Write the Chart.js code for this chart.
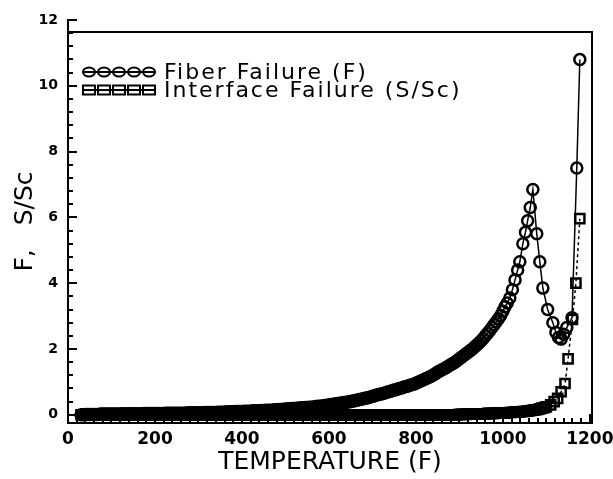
<!DOCTYPE html>
<html>
<head>
<meta charset="utf-8">
<script src="https://cdn.jsdelivr.net/npm/chart.js@4.4.1/dist/chart.umd.min.js"></script>
<style>
  html, body { margin: 0; padding: 0; background: #fff; }
  #wrap { width: 613px; height: 479px; position: relative; }
</style>
</head>
<body>
<div id="wrap"><canvas id="failureChart"></canvas></div>
<script>
// shared temperature grid for the densely sampled part of both curves
const tempLow = [
    30, 35, 40, 45, 50, 55, 60, 65, 70, 75,
    80, 85, 90, 95, 100, 105, 110, 115, 120, 125,
    130, 135, 140, 145, 150, 155, 160, 165, 170, 175,
    180, 185, 190, 195, 200, 205, 210, 215, 220, 225,
    230, 235, 240, 245, 250, 255, 260, 265, 270, 275,
    280, 285, 290, 295, 300, 305, 310, 315, 320, 325,
    330, 335, 340, 345, 350, 355, 360, 365, 370, 375,
    380, 385, 390, 395, 400, 405, 410, 415, 420, 425,
    430, 435, 440, 445, 450, 455, 460, 465, 470, 475,
    480, 485, 490, 495, 500, 505, 510, 515, 520, 525,
    530, 535, 540, 545, 550, 555, 560, 565, 570, 575,
    580, 585, 590, 595, 600, 605, 610, 615, 620, 625,
    630, 635, 640, 645, 650, 655, 660, 665, 670, 675,
    680, 685, 690, 695, 700, 705, 710, 715, 720, 725,
    730, 735, 740, 745, 750, 755, 760, 765, 770, 775,
    780, 785, 790, 795, 800, 805, 810, 815, 820, 825,
    830, 835, 840, 845, 850, 855, 860, 865, 870, 875,
    880, 885, 890, 895, 900, 905, 910, 915, 920, 925,
    930, 935, 940, 945, 950, 955, 960, 965, 970, 975,
    980, 985, 990, 995, 1000
];

// Fiber failure index F
const fiberLow = [
    0.00, 0.00, 0.01, 0.01, 0.01, 0.01, 0.01, 0.01, 0.01, 0.02,
    0.02, 0.02, 0.02, 0.02, 0.02, 0.02, 0.02, 0.02, 0.02, 0.03,
    0.03, 0.03, 0.03, 0.03, 0.03, 0.03, 0.03, 0.03, 0.03, 0.04,
    0.04, 0.04, 0.04, 0.04, 0.04, 0.04, 0.04, 0.04, 0.04, 0.05,
    0.05, 0.05, 0.05, 0.05, 0.05, 0.05, 0.05, 0.05, 0.05, 0.06,
    0.06, 0.06, 0.06, 0.06, 0.06, 0.06, 0.06, 0.07, 0.07, 0.07,
    0.07, 0.07, 0.07, 0.08, 0.08, 0.08, 0.08, 0.09, 0.09, 0.09,
    0.09, 0.10, 0.10, 0.10, 0.10, 0.11, 0.11, 0.11, 0.11, 0.12,
    0.12, 0.12, 0.12, 0.13, 0.13, 0.14, 0.14, 0.14, 0.14, 0.15,
    0.15, 0.16, 0.16, 0.17, 0.17, 0.18, 0.18, 0.19, 0.19, 0.20,
    0.20, 0.21, 0.21, 0.22, 0.22, 0.23, 0.23, 0.24, 0.25, 0.26,
    0.26, 0.27, 0.28, 0.29, 0.30, 0.31, 0.32, 0.33, 0.34, 0.35,
    0.36, 0.37, 0.38, 0.39, 0.40, 0.42, 0.43, 0.45, 0.46, 0.48,
    0.49, 0.51, 0.52, 0.54, 0.56, 0.58, 0.60, 0.62, 0.63, 0.65,
    0.67, 0.69, 0.71, 0.73, 0.75, 0.77, 0.79, 0.81, 0.83, 0.85,
    0.87, 0.89, 0.91, 0.93, 0.96, 0.99, 1.02, 1.05, 1.08, 1.11,
    1.14, 1.17, 1.21, 1.25, 1.30, 1.33, 1.37, 1.40, 1.44, 1.48,
    1.52, 1.56, 1.60, 1.65, 1.70, 1.75, 1.80, 1.85, 1.90, 1.95,
    2.00, 2.06, 2.12, 2.18, 2.25, 2.32, 2.40, 2.48, 2.56, 2.65,
    2.74, 2.83, 2.92, 3.02, 3.15
];
const tempF = tempLow.concat([
    1005, 1010, 1016, 1022, 1028, 1034, 1039, 1046, 1052, 1057,
    1063, 1069, 1078, 1085, 1092, 1103, 1115, 1122, 1128, 1134,
    1140, 1147, 1159, 1170, 1177
]);
const fiberF = fiberLow.concat([
    3.28, 3.40, 3.55, 3.80, 4.10, 4.40, 4.65, 5.20, 5.55, 5.90,
    6.30, 6.85, 5.50, 4.65, 3.85, 3.20, 2.80, 2.50, 2.35, 2.30,
    2.45, 2.65, 2.95, 7.50, 10.80
]);

// Interface failure ratio S/Sc
const interfaceLow = [
    0, 0, 0, 0, 0, 0, 0, 0, 0, 0,
    0, 0, 0, 0, 0, 0, 0, 0, 0, 0,
    0, 0, 0, 0, 0, 0, 0, 0, 0, 0,
    0, 0, 0, 0, 0, 0, 0, 0, 0, 0,
    0, 0, 0, 0, 0, 0, 0, 0, 0, 0,
    0, 0, 0, 0, 0, 0, 0, 0, 0, 0,
    0, 0, 0, 0, 0, 0, 0, 0, 0, 0,
    0, 0, 0, 0, 0, 0, 0, 0, 0, 0,
    0, 0, 0, 0, 0, 0, 0, 0, 0, 0,
    0, 0, 0, 0, 0, 0, 0, 0, 0, 0,
    0, 0, 0, 0, 0, 0, 0, 0, 0, 0,
    0, 0, 0, 0, 0, 0, 0, 0, 0, 0,
    0, 0, 0, 0, 0, 0, 0, 0, 0, 0,
    0, 0, 0, 0, 0, 0, 0, 0, 0, 0,
    0, 0, 0, 0, 0, 0, 0, 0, 0, 0,
    0, 0, 0, 0, 0, 0, 0, 0, 0, 0,
    0, 0, 0, 0, 0, 0, 0, 0, 0, 0,
    0, 0, 0, 0, 0.01, 0.01, 0.01, 0.01, 0.02, 0.02,
    0.02, 0.02, 0.02, 0.03, 0.03, 0.03, 0.03, 0.04, 0.04, 0.04,
    0.04, 0.05, 0.05, 0.05, 0.05
];
const tempS = tempLow.concat([
    1005, 1010, 1015, 1020, 1025, 1030, 1035, 1040, 1045, 1050,
    1055, 1060, 1065, 1070, 1075, 1080, 1085, 1090, 1095, 1100,
    1110, 1118, 1126, 1134, 1143, 1150, 1160, 1168, 1177
]);
const interfaceS = interfaceLow.concat([
    0.06, 0.06, 0.07, 0.07, 0.08, 0.08, 0.09, 0.09, 0.10, 0.10,
    0.11, 0.12, 0.13, 0.14, 0.15, 0.16, 0.18, 0.20, 0.22, 0.24,
    0.30, 0.40, 0.50, 0.70, 0.95, 1.70, 2.90, 4.00, 5.96
]);

const xTicks = [0, 200, 400, 600, 800, 1000, 1200];
const yTicks = [0, 2, 4, 6, 8, 10, 12];
const seriesNames = ["Fiber Failure (F)", "Interface Failure (S/Sc)"];
const xTitle = "TEMPERATURE (F)";
const yTitle = "F,   S/Sc";

const fontFamily = "'DejaVu Sans', sans-serif";
Chart.defaults.font.family = fontFamily;
Chart.defaults.color = "#000";

function toPoints(xs, ys) {
    return xs.map((x, i) => ({ x: x, y: ys[i] }));
}

// tick marks pointing into the plot, plus the top/right frame
const innerTicks = {
    id: "innerTicks",
    afterDatasetsDraw(chart) {
        const { ctx, chartArea } = chart;
        const xs = chart.scales.x;
        const ys = chart.scales.y;
        ctx.save();
        ctx.strokeStyle = "#000";
        ctx.lineWidth = 2;
        ctx.beginPath();
        for (let i = 0; i <= 30; i++) {
            const py = Math.round(ys.getPixelForValue(i * 0.4));
            const len = i % 5 === 0 ? 9 : 5;
            ctx.moveTo(chartArea.left, py);
            ctx.lineTo(chartArea.left + len, py);
        }
        for (let i = 0; i <= 60; i++) {
            const px = Math.round(xs.getPixelForValue(i * 20));
            const len = i % 10 === 0 ? 9 : 5;
            ctx.moveTo(px, chartArea.bottom);
            ctx.lineTo(px, chartArea.bottom - len);
        }
        ctx.stroke();

        const frameTop = Math.round(ys.getPixelForValue(11.64));
        ctx.beginPath();
        ctx.moveTo(chartArea.left, frameTop);
        ctx.lineTo(chartArea.right, frameTop);
        ctx.lineTo(chartArea.right, chartArea.bottom);
        ctx.stroke();
        ctx.restore();
    }
};

// legend with a row of five markers per series
const legendRows = {
    id: "legendRows",
    afterDraw(chart) {
        const { ctx, chartArea } = chart;
        const x0 = chartArea.left + 14;
        const rows = [chartArea.top + 52, chartArea.top + 70];
        ctx.save();
        ctx.strokeStyle = "#000";
        ctx.fillStyle = "#000";
        ctx.lineWidth = 2;
        rows.forEach((ry, r) => {
            ctx.beginPath();
            ctx.moveTo(x0, ry);
            ctx.lineTo(x0 + 74, ry);
            ctx.stroke();
            for (let k = 0; k < 5; k++) {
                const cx = x0 + 7 + k * 15;
                ctx.beginPath();
                if (r === 0) {
                    ctx.ellipse(cx, ry, 6, 4.5, 0, 0, Math.PI * 2);
                } else {
                    ctx.rect(cx - 6, ry - 4.5, 12, 9);
                }
                ctx.stroke();
            }
            ctx.font = "22px " + fontFamily;
            ctx.letterSpacing = "2px";
            ctx.textBaseline = "middle";
            ctx.fillText(seriesNames[r], x0 + 82, ry + 1);
        });
        ctx.restore();
    }
};

new Chart(document.getElementById("failureChart"), {
    type: "scatter",
    data: {
        datasets: [
            {
                label: seriesNames[1],
                data: toPoints(tempS, interfaceS),
                showLine: true,
                borderColor: "#000",
                borderWidth: 1.5,
                borderDash: [3, 3],
                pointStyle: "rect",
                pointRadius: 6.5,
                pointBorderWidth: 2.5,
                pointBorderColor: "#000",
                pointBackgroundColor: "rgba(0,0,0,0)",
                clip: false
            },
            {
                label: seriesNames[0],
                data: toPoints(tempF, fiberF),
                showLine: true,
                borderColor: "#000",
                borderWidth: 1.5,
                pointStyle: "circle",
                pointRadius: 5.5,
                pointBorderWidth: 2.5,
                pointBorderColor: "#000",
                pointBackgroundColor: "rgba(0,0,0,0)",
                clip: false
            }
        ]
    },
    options: {
        responsive: true,
        maintainAspectRatio: false,
        animation: false,
        layout: {
            padding: { top: 20, right: 21, left: 0, bottom: 0 }
        },
        plugins: {
            legend: { display: false },
            tooltip: { enabled: false }
        },
        scales: {
            x: {
                type: "linear",
                min: 0,
                max: 1205,
                afterBuildTicks: scale => {
                    scale.ticks = xTicks.map(v => ({ value: v }));
                },
                afterFit: scale => {
                    scale.height = 56;
                    scale.paddingLeft = 0;
                    scale.paddingRight = 0;
                },
                grid: { display: false, drawTicks: false },
                border: { display: true, color: "#000", width: 2 },
                ticks: {
                    color: "#000",
                    padding: 6,
                    autoSkip: false,
                    maxRotation: 0,
                    font: { size: 17, weight: "bold" },
                    callback: value => String(value)
                },
                title: {
                    display: true,
                    text: xTitle,
                    color: "#000",
                    font: { size: 25 },
                    padding: { top: 0, bottom: 2 }
                }
            },
            y: {
                type: "linear",
                min: -0.25,
                max: 12,
                afterBuildTicks: scale => {
                    scale.ticks = yTicks.map(v => ({ value: v }));
                },
                afterFit: scale => {
                    scale.width = 68;
                },
                grid: { display: false, drawTicks: false },
                border: { display: true, color: "#000", width: 2 },
                ticks: {
                    color: "#000",
                    padding: 10,
                    font: { size: 14, weight: "bold" },
                    callback: value => String(value)
                },
                title: {
                    display: true,
                    text: yTitle,
                    color: "#000",
                    font: { size: 25 },
                    padding: { top: 10, bottom: 0 }
                }
            }
        }
    },
    plugins: [innerTicks, legendRows]
});
</script>
</body>
</html>
